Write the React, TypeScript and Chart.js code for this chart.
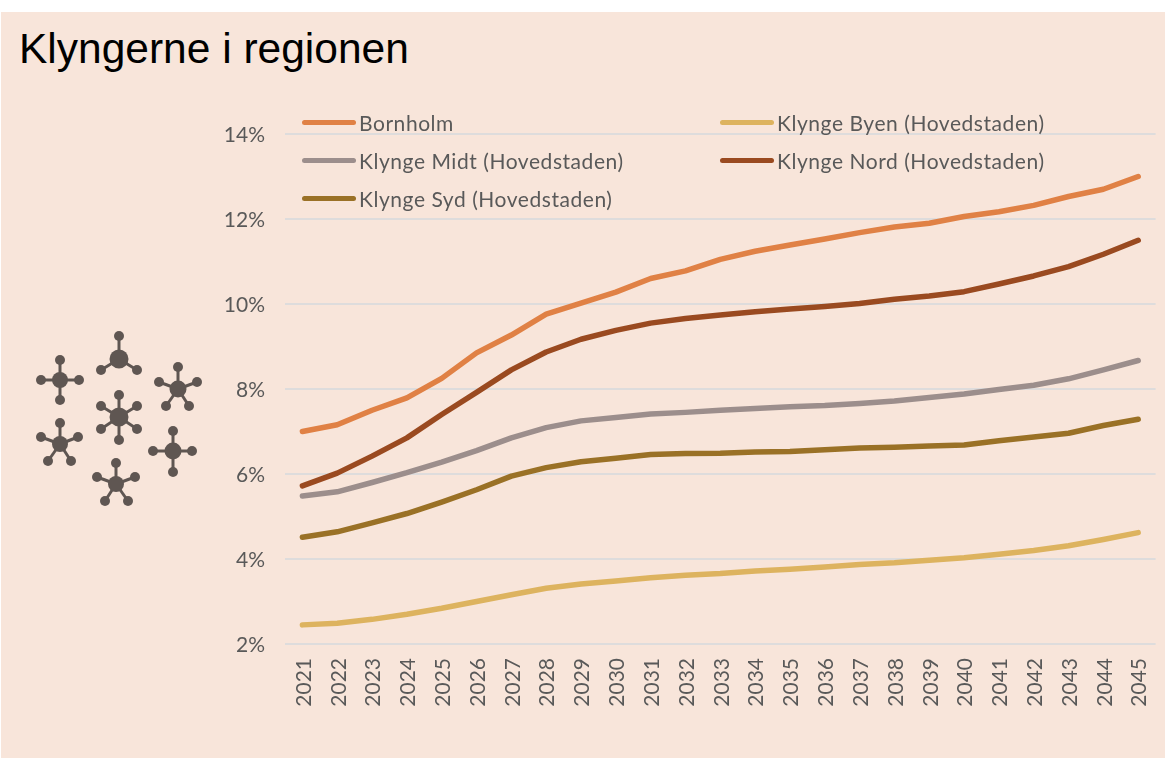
import React, { useEffect, useRef } from "react";
import { Chart, registerables } from "chart.js";

Chart.register(...registerables);

const title = "Klyngerne i regionen";
const years = ["2021","2022","2023","2024","2025","2026","2027","2028","2029","2030","2031","2032","2033","2034","2035","2036","2037","2038","2039","2040","2041","2042","2043","2044","2045"];
const bornholm = [7.0,7.16,7.5,7.79,8.25,8.85,9.27,9.76,10.02,10.28,10.6,10.78,11.05,11.24,11.39,11.53,11.68,11.81,11.9,12.06,12.17,12.32,12.53,12.7,13.0];
const byen = [2.45,2.49,2.58,2.7,2.84,3.0,3.16,3.31,3.41,3.48,3.56,3.62,3.66,3.72,3.76,3.81,3.87,3.91,3.97,4.03,4.11,4.2,4.31,4.46,4.62];
const midt = [5.48,5.58,5.8,6.03,6.28,6.55,6.85,7.09,7.25,7.33,7.41,7.45,7.5,7.54,7.58,7.61,7.66,7.72,7.8,7.88,7.99,8.09,8.24,8.45,8.67];
const nord = [5.72,6.02,6.42,6.85,7.4,7.92,8.45,8.87,9.17,9.38,9.55,9.66,9.74,9.82,9.88,9.94,10.01,10.11,10.19,10.29,10.47,10.66,10.88,11.17,11.5];
const syd = [4.51,4.64,4.85,5.07,5.34,5.63,5.95,6.15,6.29,6.37,6.46,6.48,6.49,6.52,6.53,6.57,6.61,6.63,6.66,6.68,6.78,6.87,6.96,7.14,7.29];

const names = ["Bornholm","Klynge Byen (Hovedstaden)","Klynge Midt (Hovedstaden)","Klynge Nord (Hovedstaden)","Klynge Syd (Hovedstaden)"];
const colors = ["#E08145","#DDB35F","#9C8E8C","#9A4A20","#9A7126"];
const seriesValues = [bornholm, byen, midt, nord, syd];
const legendLeft = [302, 720, 302, 720, 302];
const legendTop = [122, 122, 160, 160, 198];

const TEXT = "#595959";
const FONT = "Lato, 'Open Sans', sans-serif";

type Molecule = { c: [number, number, number]; s: [number, number][] };
const molecules: Molecule[] = [
  { c: [60,380,8], s: [[60,360],[41,380],[79,380],[60,400]] },
  { c: [119,359,9.5], s: [[119,336],[101,370],[137,370]] },
  { c: [178,389,8.5], s: [[178,367],[159,382],[197,382],[166,406],[189,406]] },
  { c: [119,417,9.5], s: [[119,395],[101,406],[137,406],[101,429],[137,429],[119,440]] },
  { c: [60,444,8], s: [[60,423],[41,437],[78,437],[48,461],[71,461]] },
  { c: [173,451,8.5], s: [[173,431],[153,451],[192,451],[173,472]] },
  { c: [116,484,8], s: [[116,463],[97,477],[135,477],[105,501],[128,501]] },
];

export default function App() {
  const ref = useRef<HTMLCanvasElement>(null);
  useEffect(() => {
    const chart = new Chart(ref.current!, {
      type: "line",
      data: {
        labels: years,
        datasets: names.map((n, i) => ({
          label: n,
          data: seriesValues[i],
          borderColor: colors[i],
          backgroundColor: colors[i],
          borderWidth: 5.5,
          pointRadius: 0,
          borderCapStyle: "round" as const,
          borderJoinStyle: "round" as const,
          tension: 0,
          fill: false,
        })),
      },
      options: {
        animation: false,
        responsive: false,
        layout: { padding: { left: 0, top: 134, right: 9.4, bottom: 0 } },
        plugins: { legend: { display: false }, tooltip: { enabled: false } },
        scales: {
          x: {
            offset: true,
            grid: { display: false },
            border: { display: false },
            ticks: {
              color: TEXT,
              font: { family: FONT, size: 21 },
              minRotation: 90,
              maxRotation: 90,
              autoSkip: false,
              padding: 6,
              labelOffset: 1.5,
            },
            afterFit: (s: any) => { s.height = 114; s.paddingLeft = 0; s.paddingRight = 0; },
          },
          y: {
            min: 2,
            max: 14,
            grid: { color: "#DEDCDC", lineWidth: 2, drawTicks: false },
            border: { display: false },
            ticks: {
              stepSize: 2,
              color: TEXT,
              font: { family: FONT, size: 21 },
              padding: 20,
              labelOffset: 1.5,
              callback: (v: any) => `${v}%`,
            },
            afterFit: (s: any) => { s.width = 285; s.paddingTop = 0; s.paddingBottom = 0; },
          },
        },
      },
    } as any);
    return () => chart.destroy();
  }, []);

  return (
    <div style={{ position: "fixed", left: 0, top: 0, width: 1165, height: 758, background: "#fff", overflow: "hidden" }}>
      <div style={{ position: "absolute", left: 1, top: 12, right: 0, bottom: 0, background: "#F8E5DA" }} />
      <div style={{ position: "absolute", left: 19, top: 24, fontFamily: "'Liberation Sans', Arial, sans-serif", fontSize: 42.5, lineHeight: "50px", color: "#000", whiteSpace: "nowrap" }}>{title}</div>
      <svg width={1165} height={758} style={{ position: "absolute", left: 0, top: 0 }}>
        {molecules.map((m, i) => (
          <g key={i} fill="#5F5652" stroke="#5F5652">
            {m.s.map(([x, y], j) => (
              <g key={j}>
                <line x1={m.c[0]} y1={m.c[1]} x2={x} y2={y} strokeWidth={3} />
                <circle cx={x} cy={y} r={5} stroke="none" />
              </g>
            ))}
            <circle cx={m.c[0]} cy={m.c[1]} r={m.c[2]} stroke="none" />
          </g>
        ))}
      </svg>
      <canvas ref={ref} width={1165} height={758} style={{ position: "absolute", left: 0, top: 0 }} />
      {names.map((n, i) => (
        <div key={n} style={{ position: "absolute", left: legendLeft[i], top: legendTop[i] - 14, height: 28, display: "flex", alignItems: "center", whiteSpace: "nowrap", fontFamily: FONT, fontSize: 21, letterSpacing: 0.55, color: TEXT }}>
          <span style={{ display: "inline-block", width: 54, height: 5, borderRadius: 3, background: colors[i], marginRight: 3 }} />
          <span>{n}</span>
        </div>
      ))}
    </div>
  );
}
